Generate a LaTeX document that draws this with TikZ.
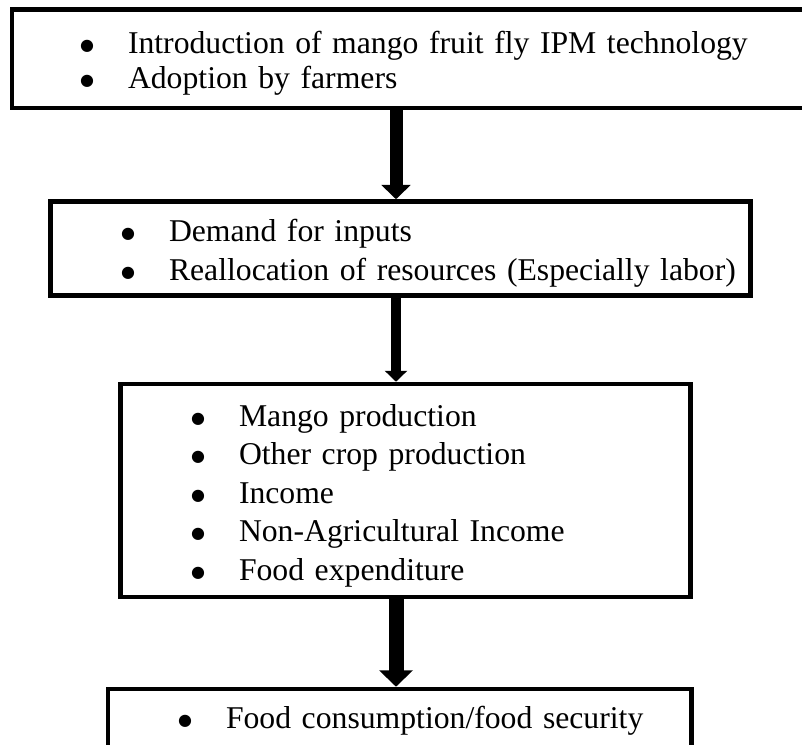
\documentclass[tikz,border=0pt]{standalone}
\usepackage{fontspec}
\setmainfont[WordSpace={0.7,0,0}]{Liberation Serif}
\newfontfamily\dotfont{DejaVu Sans}
\usetikzlibrary{arrows.meta}
\newlength\itmind
\newcommand\itm[1]{\hspace*{\itmind}\makebox[0pt]{\raisebox{3pt}{\dotfont\fontsize{16}{16}\selectfont ●}}\hspace{41pt}#1}

\begin{document}
\begin{tikzpicture}[x=1pt,y=-1pt,font=\fontsize{31.7}{38.5}\selectfont,
box/.style={draw,line width=4.5pt,inner xsep=0pt,inner ysep=0pt,align=left,text height=0pt},
ind/.style={execute at begin node={\setlength\itmind{#1}}},
arr/.style={-{Triangle[width=0pt 2.2,length=0pt 1.1]},line width=#1}]

\useasboundingbox(0,0)rectangle(802,744);
\node[box,ind=75pt,minimum width=818pt,text width=818pt,minimum height=98.5pt,text depth=10pt,font=\fontsize{31.7}{35}\selectfont](intro)at(421,58.75){\itm{Introduction of mango fruit fly IPM technology}\\\itm{Adoption by farmers}};
\node[box,ind=77.5pt,minimum width=700pt,text width=700pt,minimum height=94pt,text depth=15pt,font=\fontsize{31.7}{39}\selectfont](demand)at(400.5,248.5){\itm{Demand for inputs}\\\itm{Reallocation of resources (Especially labor)}};
\node[box,ind=77.5pt,minimum width=570pt,text width=570pt,minimum height=213pt,text depth=129pt](outcome)at(405.5,490.5){\itm{Mango production}\\\itm{Other crop production}\\\itm{Income}\\\itm{Non-Agricultural Income}\\\itm{Food expenditure}};
\node[box,ind=77pt,minimum width=583.5pt,text width=583.5pt,minimum height=77pt,text height=1pt,text depth=0pt](food)at(399.75,727.5){\itm{Food consumption/food security}};
\coordinate(ax)at(396,0);
\draw[arr=13pt](intro.south-|ax)--(demand.north-|ax);
\draw[arr=10pt](demand.south-|ax)--(outcome.north-|ax);
\draw[arr=15pt](outcome.south-|ax)--(food.north-|ax);
\end{tikzpicture}
\end{document}
